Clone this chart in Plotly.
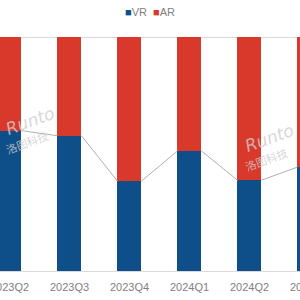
import plotly.graph_objects as go

categories = ["2023Q2", "2023Q3", "2023Q4", "2024Q1", "2024Q2", "2024Q3"]
vr_share = [0.60, 0.578, 0.384, 0.513, 0.388, 0.444]
ar_share = [1 - v for v in vr_share]

VR_COLOR = "#0E4F8A"
AR_COLOR = "#D9392B"
BAR_W = 0.4
X_RANGE = [-0.158, 4.842]

x_idx = list(range(len(categories)))

fig = go.Figure()
fig.add_bar(x=x_idx, y=vr_share, name="VR", marker_color=VR_COLOR, width=BAR_W,
            marker_line_width=0)
fig.add_bar(x=x_idx, y=ar_share, name="AR", marker_color=AR_COLOR, width=BAR_W,
            marker_line_width=0)

# series lines between bars
for i in range(len(categories) - 1):
    for level_a, level_b in ((vr_share[i], vr_share[i + 1]), (1.0, 1.0)):
        fig.add_scatter(x=[i + BAR_W / 2, i + 1 - BAR_W / 2], y=[level_a, level_b],
                        mode="lines", line=dict(color="#B0B0B0", width=1),
                        showlegend=False, hoverinfo="skip")

def to_paper(i):
    return (i - X_RANGE[0]) / (X_RANGE[1] - X_RANGE[0])

# category labels (drawn as annotations so edge labels stay, cut like the original)
for i, cat in enumerate(categories):
    fig.add_annotation(x=to_paper(i), y=-0.035, xref="paper", yref="paper",
                       xanchor="center", yanchor="top",
                       text=cat, showarrow=False,
                       font=dict(family="Liberation Sans", size=11, color="#7F7F7F"))

# watermarks
WM = "rgba(205,205,205,0.8)"
for xw, yw in ((0.34, 0.64), (4.33, 0.57)):
    fig.add_annotation(x=xw, y=yw, xref="x", yref="y", text="<i>Runto</i>",
                       showarrow=False, textangle=-20, xanchor="center", yanchor="middle",
                       font=dict(family="DejaVu Sans", size=17, color=WM))
    fig.add_annotation(x=xw - 0.05, y=yw - 0.09, xref="x", yref="y", text="洛图科技",
                       showarrow=False, textangle=-20, xanchor="center", yanchor="middle",
                       font=dict(family="Noto Sans CJK SC", size=11, color=WM))

# legend drawn as text with coloured squares
fig.add_annotation(x=0.5, y=1.107, xref="paper", yref="paper", yanchor="middle", xanchor="center",
                   showarrow=False,
                   text=(f"<span style='color:{VR_COLOR}'>■</span>VR  "
                         f"<span style='color:{AR_COLOR}'>■</span>AR"),
                   font=dict(family="Liberation Sans", size=11, color="#7F7F7F"))

fig.update_layout(
    width=300, height=300,
    margin=dict(l=0, r=0, t=37, b=29),
    barmode="stack",
    bargap=0,
    plot_bgcolor="white", paper_bgcolor="white",
    showlegend=False,
)
fig.update_xaxes(range=X_RANGE, showticklabels=False,
                 showgrid=False, showline=True, linecolor="#D9D9D9", linewidth=1, ticks="")
fig.update_yaxes(range=[0, 1], visible=False)

fig.write_html("out.html")
